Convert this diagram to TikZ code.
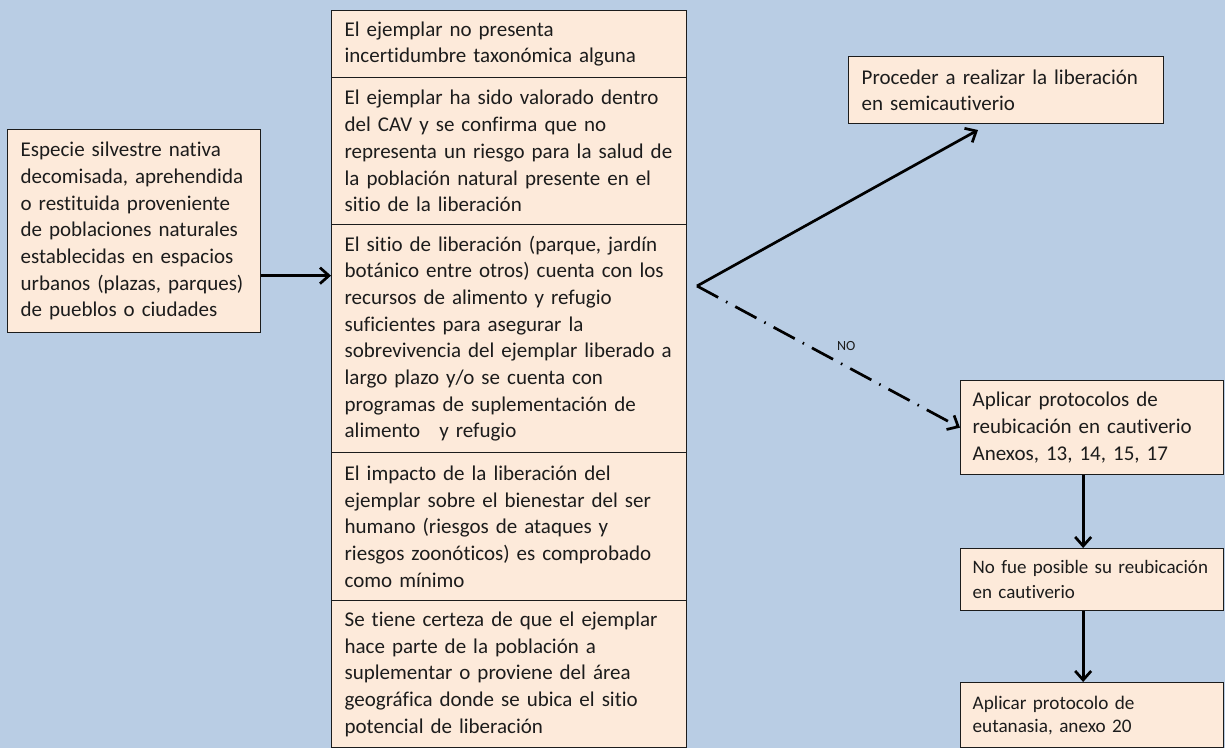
\documentclass[tikz,border=0pt]{standalone}
\usepackage{fontspec}
\setmainfont{Carlito}[Ligatures={NoCommon}]
\usepackage{tikz}
\usetikzlibrary{arrows.meta,arrows}

\definecolor{bgblue}{HTML}{B9CDE4}
\definecolor{boxfill}{HTML}{FDEADA}
\definecolor{inkgray}{HTML}{1C1C1C}
\hyphenpenalty=10000

\begin{document}
\begin{tikzpicture}[x=1pt, y=-1pt, >={Straight Barb[length=9pt, width=16pt]},
    stepbox/.style={anchor=north west, draw=inkgray, line width=1.3pt, fill=boxfill,
        text=inkgray, align=left, inner xsep=13pt, inner ysep=3pt,
        font=\fontsize{21}{26.7}\selectfont},
    sidebox/.style={stepbox, inner xsep=12pt, text width=239pt},
    flow/.style={->, line width=2.7pt, black}]

        % Background
        \fill[bgblue] (0,0) rectangle (1225,748);
        \useasboundingbox (0,0) rectangle (1225,748);

        % Input box
        \node at (7,129) [stepbox, text width=227pt, minimum height=203pt] (lbox)
            {Especie silvestre nativa\\ decomisada, aprehendida\\ o restituida proveniente\\
             de poblaciones naturales\\ establecidas en espacios\\ urbanos (plazas, parques)\\
             de pueblos o ciudades};

        % Conditions column
        \node at (331,10) [stepbox, text width=329pt, minimum height=67pt] (m1)
            {El ejemplar no presenta\\ incertidumbre taxonómica alguna};
        \node at (331,77) [stepbox, text width=329pt, minimum height=147pt] (m2)
            {El ejemplar ha sido valorado dentro\\ del CAV y se confirma que no\\
             representa un riesgo para la salud de\\ la población natural presente en el\\
             sitio de la liberación};
        \node at (331,224) [stepbox, text width=329pt, minimum height=228pt] (m3)
            {El sitio de liberación (parque, jardín\\ botánico entre otros) cuenta con los\\
             recursos de alimento y refugio\\ suficientes para asegurar la\\
             sobrevivencia del ejemplar liberado a\\ largo plazo y/o se cuenta con\\
             programas de suplementación de\\ alimento\hspace{12pt} y refugio};
        \node at (331,452) [stepbox, text width=329pt, minimum height=148pt] (m4)
            {El impacto de la liberación del\\ ejemplar sobre el bienestar del ser\\
             humano (riesgos de ataques y\\ riesgos zoonóticos) es comprobado\\
             como mínimo};
        \node at (331,600) [stepbox, text width=329pt, minimum height=147pt] (m5)
            {Se tiene certeza de que el ejemplar\\ hace parte de la población a\\
             suplementar o proviene del área\\ geográfica donde se ubica el sitio\\
             potencial de liberación};

        % Outcome boxes
        \node at (848,56) [stepbox, text width=289pt, minimum height=67pt] (t1)
            {Proceder a realizar la liberación\\ en semicautiverio};
        \node at (960,380) [sidebox, minimum height=94pt] (r1)
            {Aplicar protocolos de\\ reubicación en cautiverio\\ Anexos, 13, 14, 15, 17};
        \node at (960,548) [sidebox, minimum height=62pt, font=\fontsize{19}{25}\selectfont] (r2)
            {\mbox{No fue posible su reubicación}\\ en cautiverio};
        \node at (960,682) [sidebox, minimum height=65pt, font=\fontsize{19.2}{23}\selectfont] (r3)
            {Aplicar protocolo de\\ eutanasia, anexo 20};

        % Free ends
        \coordinate (lout) at ([yshift=-44.5pt]lbox.east);
        \coordinate (split) at (697,286);
        \coordinate (semitip) at (978,130);

        % Arrows
        \draw[flow] (lout) -- (lout -| m3.west);
        \draw[flow] (split) -- (semitip);
        \draw[flow, dash pattern=on 24pt off 9pt on 1.5pt off 9pt] (split) -- (r1.west)
            node[pos=0.56, above=13pt, xshift=2pt, font=\fontsize{14}{16}\selectfont, text=inkgray, inner sep=0pt] (nolabel) {NO};
        \draw[flow] ([xshift=-9pt]r1.south) -- ([xshift=-9pt]r2.north);
        \draw[flow] ([xshift=-9pt]r2.south) -- ([xshift=-9pt]r3.north);

    \end{tikzpicture}
\end{document}
